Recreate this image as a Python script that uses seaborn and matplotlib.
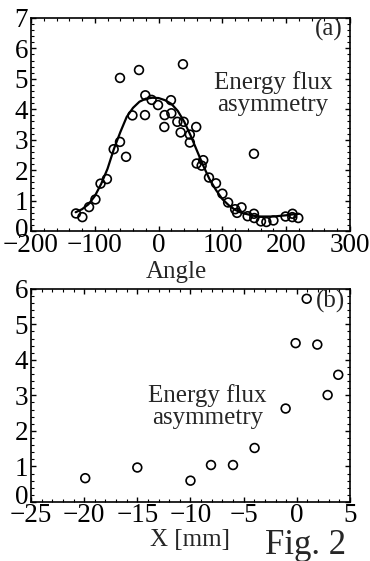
import matplotlib
matplotlib.use("Agg")
import matplotlib.pyplot as plt
from matplotlib.ticker import AutoMinorLocator, MultipleLocator
from matplotlib.transforms import ScaledTranslation
import seaborn as sns
import pandas as pd

# Panel (a) data: angle vs energy flux asymmetry
angle_pts = [-129.5, -119.5, -109, -99, -91, -81, -70.4, -60.5, -60.5, -51, -41, -30.7,
             -20.8, -21.3, -10.9, -0.9, 9.5, 9, 19.4, 20, 29.4, 38.2, 39.3, 34.6, 49, 49,
             59, 59.7, 70, 67.5, 79, 90, 100, 109, 120, 123, 130, 139.6, 149.5, 149.5, 150,
             160.5, 169, 180, 199, 209.6, 210, 219]
flux_pts = [0.58, 0.46, 0.79, 1.04, 1.56, 1.71, 2.69, 2.93, 5.03, 2.44, 3.80, 5.29,
            4.46, 3.81, 4.31, 4.14, 3.81, 3.42, 4.30, 3.87, 3.59, 5.48, 3.59, 3.24, 3.17, 2.91,
            3.42, 2.22, 2.33, 2.15, 1.76, 1.57, 1.23, 0.94, 0.72, 0.60, 0.78, 0.49, 0.57, 2.54, 0.43,
            0.32, 0.30, 0.35, 0.48, 0.46, 0.57, 0.43]

# Fitted curve
curve_angle = [-130, -120, -110, -100, -90, -80, -70, -60, -50, -40, -30, -20, -10, 0, 10,
               20, 30, 40, 50, 60, 70, 80, 90, 100, 110, 120, 130, 140, 150, 160, 170,
               180, 190, 200, 210, 220]
curve_flux = [0.62, 0.72, 0.88, 1.15, 1.55, 2.05, 2.7, 3.25, 3.75, 4.05, 4.25, 4.35, 4.38,
              4.37, 4.3, 4.18, 3.95, 3.6, 3.15, 2.65, 2.15, 1.7, 1.35, 1.05, 0.85, 0.7, 0.6,
              0.55, 0.5, 0.48, 0.48, 0.48, 0.5, 0.52, 0.55, 0.57]

# Panel (b) data: X position vs energy flux asymmetry
x_mm = [-19.9, -15.0, -10.0, -8.07, -6.0, -3.97, -1.05, -0.11, 0.93, 1.93, 2.9, 3.9]
flux_b = [0.67, 0.97, 0.60, 1.04, 1.04, 1.52, 2.63, 4.47, 5.72, 4.43, 3.01, 3.58]

df_a = pd.DataFrame({"angle": angle_pts, "flux": flux_pts})
df_c = pd.DataFrame({"angle": curve_angle, "flux": curve_flux})
df_b = pd.DataFrame({"x": x_mm, "flux": flux_b})

sns.set_style("ticks")
plt.rcParams["font.family"] = ["Liberation Serif", "DejaVu Serif"]

fig = plt.figure(figsize=(3.70, 5.61), dpi=100)
ax1 = fig.add_axes([0.0838, 0.588, 0.862, 0.380])
ax2 = fig.add_axes([0.0838, 0.1052, 0.862, 0.380])

tick_fs = 19.5

def style(ax):
    for s in ax.spines.values():
        s.set_linewidth(1.2)
        s.set_color("black")
    ax.tick_params(which="both", direction="in", top=True, right=True,
                   labelsize=tick_fs, colors="black")
    ax.tick_params(axis="x", pad=1)
    ax.tick_params(axis="y", pad=2)
    ax.tick_params(which="major", length=3.5, width=1.0)
    ax.tick_params(which="minor", length=2, width=0.8)
    ax.xaxis.set_minor_locator(AutoMinorLocator(5))
    ax.yaxis.set_minor_locator(AutoMinorLocator(5))
    ax.set_ylabel("")

# Panel (a)
sns.lineplot(data=df_c, x="angle", y="flux", ax=ax1, color="black", linewidth=1.6, sort=True)
sns.scatterplot(data=df_a, x="angle", y="flux", ax=ax1, marker="o", s=40,
                facecolor="none", edgecolor="black", linewidth=1.2)
ax1.set_xlim(-200, 300)
ax1.set_ylim(0, 7)
ax1.xaxis.set_major_locator(MultipleLocator(100))
ax1.yaxis.set_major_locator(MultipleLocator(1))
style(ax1)
ax1.set_xlabel("Angle", fontsize=18, labelpad=0)
ax1.xaxis.set_label_coords(0.455, -0.14)
ax1.text(0.978, 0.944, "(a)", transform=ax1.transAxes, ha="right", va="center", fontsize=18)
ax1.text(0.759, 0.646, "Energy flux\nasymmetry", transform=ax1.transAxes, ha="center",
         va="center", fontsize=18, linespacing=1.0)

# Panel (b)
sns.scatterplot(data=df_b, x="x", y="flux", ax=ax2, marker="o", s=40,
                facecolor="none", edgecolor="black", linewidth=1.2)
ax2.set_xlim(-25, 5)
ax2.set_ylim(0, 6)
ax2.xaxis.set_major_locator(MultipleLocator(5))
ax2.yaxis.set_major_locator(MultipleLocator(1))
style(ax2)
ax2.set_xlabel("X [mm]", fontsize=18, labelpad=0)
ax2.xaxis.set_label_coords(0.5, -0.125)
ax2.text(0.986, 0.939, "(b)", transform=ax2.transAxes, ha="right", va="center", fontsize=18)
ax2.text(0.553, 0.45, "Energy flux\nasymmetry", transform=ax2.transAxes, ha="center",
         va="center", fontsize=18, linespacing=1.0)

fig.text(0.827, 0.012, "Fig. 2", ha="center", va="baseline", fontsize=25)

# Lift the "0" y tick labels a little so they clear the first x tick label
fig.canvas.draw()
for ax, dy in ((ax1, 4), (ax2, 7)):
    locs = ax.yaxis.get_majorticklocs()
    for loc, tk in zip(locs, ax.yaxis.get_major_ticks()):
        if abs(loc) < 1e-9:
            lab = tk.label1
            lab.set_transform(lab.get_transform() +
                              ScaledTranslation(0, dy / 100.0, fig.dpi_scale_trans))

fig.savefig("out.png", dpi=100)
